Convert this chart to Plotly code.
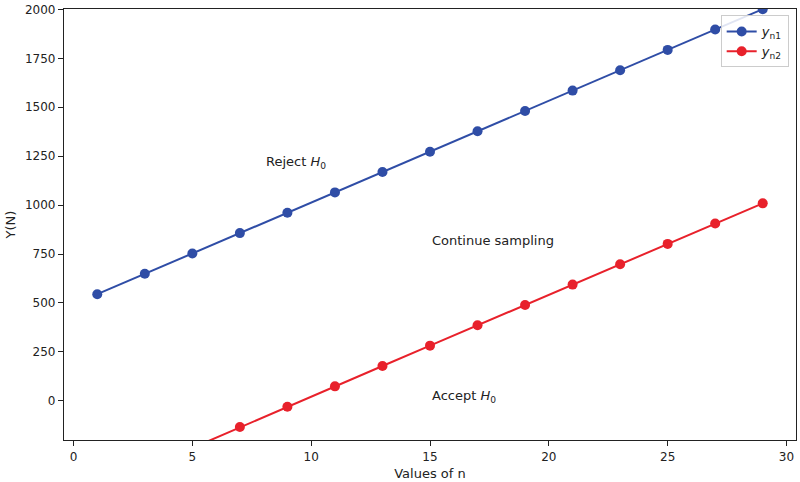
import plotly.graph_objects as go

n_values = [1, 3, 5, 7, 9, 11, 13, 15, 17, 19, 21, 23, 25, 27, 29]
y_n1 = [545, 649, 753, 857, 961, 1065, 1169, 1273, 1377, 1481, 1585, 1689, 1793, 1897, 2001]
y_n2 = [-450, -345, -238, -134, -30, 74, 178, 282, 386, 490, 594, 698, 802, 906, 1009]
x_ticks = [0, 5, 10, 15, 20, 25, 30]
y_ticks = [0, 250, 500, 750, 1000, 1250, 1500, 1750, 2000]
labels = [("Reject <i>H</i><sub>0</sub>", 8, 1220), ("Continue sampling", 15, 820), ("Accept <i>H</i><sub>0</sub>", 15, 20)]

blue = "#2f4da6"
red = "#e8212b"
font = "DejaVu Sans"

fig = go.Figure()
fig.add_trace(go.Scatter(x=n_values, y=y_n1, mode="lines+markers", name="<i>y</i><sub>n1</sub>",
                         line=dict(color=blue, width=2), marker=dict(color=blue, size=10)))
fig.add_trace(go.Scatter(x=n_values, y=y_n2, mode="lines+markers", name="<i>y</i><sub>n2</sub>",
                         line=dict(color=red, width=2), marker=dict(color=red, size=10)))

for text, x, y in labels:
    fig.add_annotation(x=x, y=y, text=text, showarrow=False, xanchor="left", yanchor="middle",
                       font=dict(family=font, size=13, color="#222"))

fig.update_layout(
    width=800, height=482,
    margin=dict(l=64, r=3, t=7, b=40),
    paper_bgcolor="white", plot_bgcolor="white",
    font=dict(family=font, size=12, color="#222"),
    showlegend=True,
    legend=dict(x=0.99, y=0.985, xanchor="right", yanchor="top", bgcolor="rgba(255,255,255,0.85)",
                bordercolor="#cccccc", borderwidth=1, font=dict(size=13), itemwidth=30),
)
fig.update_xaxes(range=[-0.4, 30.4], tickvals=x_ticks, showline=True, linecolor="#222", linewidth=1.2,
                 mirror=True, ticks="outside", ticklen=5, tickcolor="#222", showgrid=False, zeroline=False,
                 title=dict(text="Values of n", standoff=6, font=dict(size=13)))
fig.update_yaxes(range=[-200, 2002], tickvals=y_ticks, showline=True, linecolor="#222", linewidth=1.2,
                 mirror=True, ticks="outside", ticklen=5, tickcolor="#222", showgrid=False, zeroline=False,
                 ticklabeloverflow="allow",
                 title=dict(text="Y(N)", standoff=6, font=dict(size=13)))

fig.write_html("out.html")
